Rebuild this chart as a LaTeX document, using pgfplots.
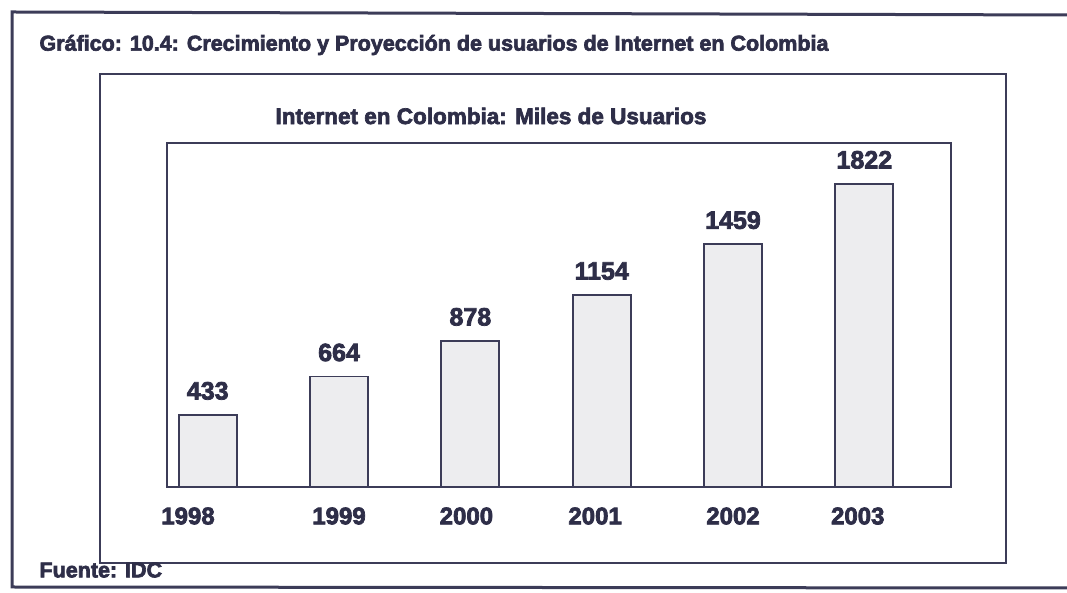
\documentclass[border=0pt]{standalone}
\usepackage{fontspec}
\setmainfont{Liberation Sans}[BoldFeatures={FakeBold=3}]
\usepackage{pgfplots}
\pgfplotsset{compat=1.18}
\definecolor{ink}{HTML}{2E2E48}
\definecolor{rule}{HTML}{3C3C58}
\definecolor{barfill}{HTML}{EDEDEF}

\begin{document}
\begin{tikzpicture}
\useasboundingbox (0pt,0pt) rectangle (1067pt,593pt);
\fill[white] (0pt,0pt) rectangle (1067pt,593pt);
% outer frame (open on the right)
\draw[rule, line width=3pt] (1067pt,578pt) -- (12pt,581pt) -- (12pt,6pt) -- (1067pt,5pt);
% inner frame
\draw[rule, line width=1.6pt] (100pt,30pt) rectangle (1006pt,519pt);
\node[anchor=west, text=ink, font=\fontsize{21.5}{24}\selectfont\bfseries]
  at (36pt,548pt) {Gráfico: 10.4: Crecimiento y Proyección de usuarios de Internet en Colombia};
\node[text=ink, font=\fontsize{22.5}{24}\selectfont\bfseries]
  at (491pt,477pt) {Internet en Colombia: Miles de Usuarios};
\node[anchor=west, text=ink, font=\fontsize{21.5}{24}\selectfont\bfseries]
  at (36pt,23pt) {Fuente: IDC};
\begin{axis}[
  at={(167pt,106pt)}, anchor=south west,
  scale only axis, width=784pt, height=344pt,
  xmin=-0.31, xmax=5.66, ymin=0, ymax=2068,
  ybar, bar width=58pt,
  ytick=\empty,
  xtick={-0.15,1.0,1.97,2.95,4.0,4.95},
  xticklabels={\textbf{1998},\textbf{1999},\textbf{2000},\textbf{2001},\textbf{2002},\textbf{2003}},
  major tick length=0pt,
  axis line style={rule, line width=1.5pt},
  xticklabel style={font=\fontsize{24}{26}\selectfont\bfseries, text=ink, yshift=-17pt},
  /pgf/number format/assume math mode=true,
  /pgf/number format/1000 sep={},
  nodes near coords,
  nodes near coords style={font=\fontsize{25}{27}\selectfont\bfseries, text=ink, yshift=11pt},
]
\addplot[draw=rule, line width=1.8pt, fill=barfill] coordinates {
  (0,433) (1,664) (2,878) (3,1154) (4,1459) (5,1822)
};
\end{axis}
\end{tikzpicture}
\end{document}
